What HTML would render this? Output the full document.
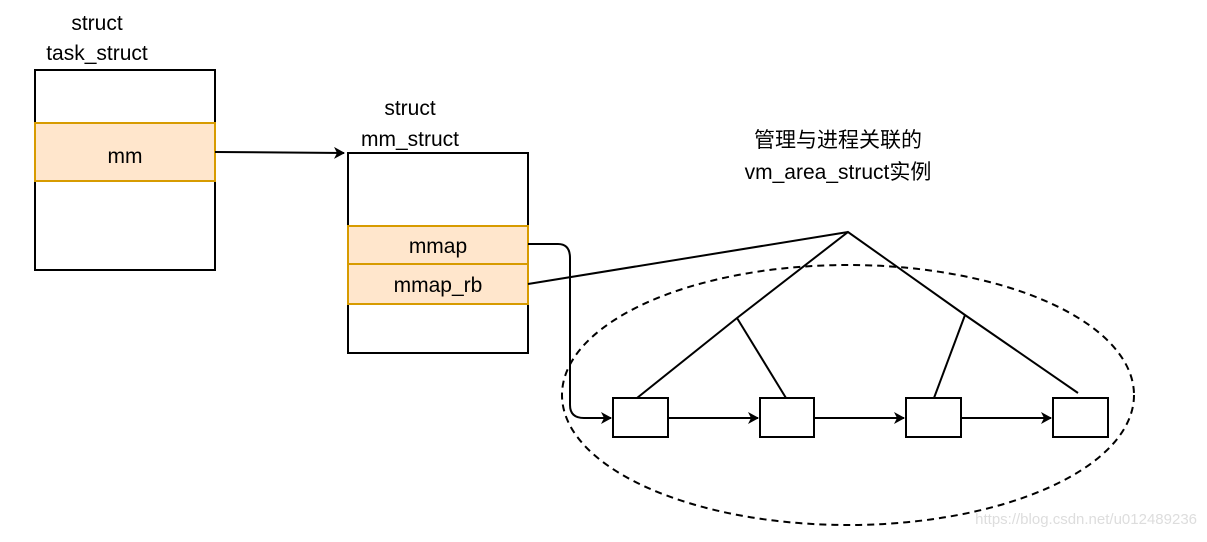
<!DOCTYPE html>
<html><head><meta charset="utf-8"><style>
body{margin:0;background:#fff;}
svg text{font-family:"Liberation Sans","Noto Sans CJK SC",sans-serif;font-size:21px;fill:#000;}
</style></head><body>
<svg width="1207" height="537" xmlns="http://www.w3.org/2000/svg">
<defs><marker id="a" markerWidth="12" markerHeight="12" refX="10" refY="6" orient="auto" markerUnits="userSpaceOnUse"><path d="M0,0 L11,6 L0,12 L3,6 Z" fill="#000"/></marker></defs>
<text x="97" y="30" text-anchor="middle">struct</text>
<text x="97" y="60" text-anchor="middle">task_struct</text>
<rect x="35" y="70" width="180" height="200" fill="#fff" stroke="#000" stroke-width="2"/>
<rect x="35" y="123" width="180" height="58" fill="#ffe6cc" stroke="#d79b00" stroke-width="2"/>
<text x="125" y="163" text-anchor="middle">mm</text>
<line x1="215" y1="152" x2="344" y2="153" stroke="#000" stroke-width="2" marker-end="url(#a)"/>
<text x="410" y="115" text-anchor="middle">struct</text>
<text x="410" y="146" text-anchor="middle">mm_struct</text>
<rect x="348" y="153" width="180" height="200" fill="#fff" stroke="#000" stroke-width="2"/>
<rect x="348" y="226" width="180" height="38" fill="#ffe6cc" stroke="#d79b00" stroke-width="2"/>
<rect x="348" y="264" width="180" height="40" fill="#ffe6cc" stroke="#d79b00" stroke-width="2"/>
<text x="438" y="253" text-anchor="middle">mmap</text>
<text x="438" y="292" text-anchor="middle">mmap_rb</text>
<text x="838" y="147" text-anchor="middle">管理与进程关联的</text>
<text x="838" y="179" text-anchor="middle">vm_area_struct实例</text>
<ellipse cx="848" cy="395" rx="286" ry="130" fill="none" stroke="#000" stroke-width="2" stroke-dasharray="7,5"/>
<path d="M528,244 L558,244 Q570,244 570,258 L570,405 Q570,418 584,418 L611,418" fill="none" stroke="#000" stroke-width="2" marker-end="url(#a)"/>
<line x1="528" y1="284" x2="848" y2="232" stroke="#000" stroke-width="2"/>
<polyline points="637,398 737,318 848,232 965,315 1078,393" fill="none" stroke="#000" stroke-width="2"/>
<line x1="737" y1="318" x2="786" y2="398" stroke="#000" stroke-width="2"/>
<line x1="965" y1="315" x2="934" y2="398" stroke="#000" stroke-width="2"/>
<rect x="613" y="398" width="55" height="39" fill="#fff" stroke="#000" stroke-width="2"/>
<rect x="760" y="398" width="54" height="39" fill="#fff" stroke="#000" stroke-width="2"/>
<rect x="906" y="398" width="55" height="39" fill="#fff" stroke="#000" stroke-width="2"/>
<rect x="1053" y="398" width="55" height="39" fill="#fff" stroke="#000" stroke-width="2"/>
<line x1="668" y1="418" x2="758" y2="418" stroke="#000" stroke-width="2" marker-end="url(#a)"/>
<line x1="814" y1="418" x2="904" y2="418" stroke="#000" stroke-width="2" marker-end="url(#a)"/>
<line x1="961" y1="418" x2="1051" y2="418" stroke="#000" stroke-width="2" marker-end="url(#a)"/>
<text x="1197" y="524" text-anchor="end" style="font-size:15px;fill:#ddd">https://blog.csdn.net/u012489236</text>
</svg>
</body></html>
